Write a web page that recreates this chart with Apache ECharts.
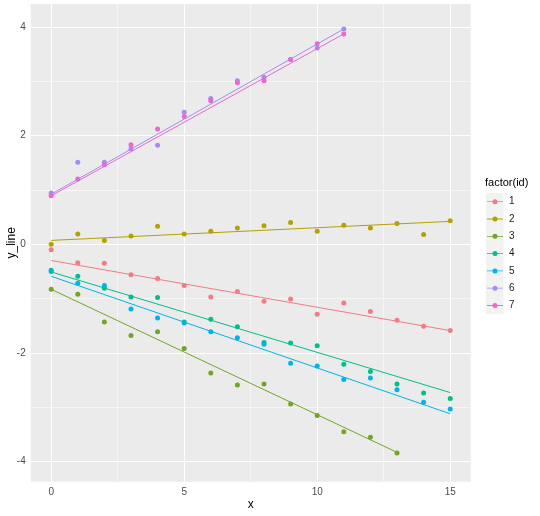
<!DOCTYPE html>
<html>
<head>
<meta charset="utf-8">
<script src="https://cdn.jsdelivr.net/npm/echarts@6/dist/echarts.min.js"></script>
<style>
  html, body { margin: 0; padding: 0; background: #ffffff; }
  #chart { width: 540px; height: 516px; }
</style>
</head>
<body>
<div id="chart"></div>
<script>
// x positions shared by every group
const xValues = [0, 1, 2, 3, 4, 5, 6, 7, 8, 9, 10, 11, 12, 13, 14, 15];

// y_line per id
const y1 = [-0.10, -0.34, -0.35, -0.56, -0.63, -0.76, -0.97, -0.87, -1.05, -1.01, -1.29, -1.08, -1.24, -1.40, -1.51, -1.59];
const y2 = [0.00, 0.19, 0.07, 0.15, 0.33, 0.19, 0.24, 0.30, 0.34, 0.40, 0.24, 0.35, 0.30, 0.38, 0.18, 0.43];
const y3 = [-0.83, -0.92, -1.43, -1.68, -1.61, -1.92, -2.37, -2.59, -2.57, -2.94, -3.15, -3.45, -3.55, -3.84];
const y4 = [-0.48, -0.59, -0.81, -0.97, -0.98, -1.43, -1.38, -1.52, -1.81, -1.82, -1.87, -2.21, -2.34, -2.57, -2.74, -2.84];
const y5 = [-0.50, -0.72, -0.76, -1.19, -1.36, -1.45, -1.61, -1.72, -1.84, -2.19, -2.24, -2.49, -2.46, -2.68, -2.91, -3.03];
const y6 = [0.94, 1.51, 1.51, 1.75, 1.82, 2.43, 2.68, 3.01, 3.07, 3.40, 3.61, 3.96];
const y7 = [0.89, 1.20, 1.46, 1.83, 2.12, 2.35, 2.64, 2.97, 3.01, 3.40, 3.69, 3.87];

// fitted line (geom_smooth lm) value at first and last x of each group
const fit1 = [-0.30, -1.59];
const fit2 = [0.07, 0.42];
const fit3 = [-0.83, -3.83];
const fit4 = [-0.51, -2.73];
const fit5 = [-0.59, -3.12];
const fit6 = [0.92, 3.96];
const fit7 = [0.89, 3.87];

const ids = ['1', '2', '3', '4', '5', '6', '7'];

// tick / grid values
const xTicks = [0, 5, 10, 15];
const xMinor = [2.5, 7.5, 12.5];
const yTicks = [-4, -2, 0, 2, 4];
const yMinor = [-3, -1, 1, 3];

const colors = ['#F27C86', '#B3A200', '#72A624', '#00BF8C', '#00B4E6', '#A48CF0', '#F065D0'];
const groupY = [y1, y2, y3, y4, y5, y6, y7];
const groupFit = [fit1, fit2, fit3, fit4, fit5, fit6, fit7];

// legend key: short line with a dot in the middle
const keyIcon = 'path://M0,2.1H16V2.9H0Z M10.5,2.5A2.5,2.5,0,1,1,5.5,2.5A2.5,2.5,0,1,1,10.5,2.5Z';

let chart = echarts.init(document.getElementById('chart'), null, {width: 540, height: 516, renderer: 'canvas'});

let gridLines = [];
xTicks.forEach(v => gridLines.push({xAxis: v, lineStyle: {color: '#ffffff', width: 1.1, type: 'solid'}}));
xMinor.forEach(v => gridLines.push({xAxis: v, lineStyle: {color: '#ffffff', width: 0.55, type: 'solid'}}));
yTicks.forEach(v => gridLines.push({yAxis: v, lineStyle: {color: '#ffffff', width: 1.1, type: 'solid'}}));
yMinor.forEach(v => gridLines.push({yAxis: v, lineStyle: {color: '#ffffff', width: 0.55, type: 'solid'}}));

let series = [{
    name: 'grid',
    type: 'line',
    data: [],
    z: 0,
    silent: true,
    markLine: {
        silent: true,
        symbol: ['none', 'none'],
        label: {show: false},
        z: 1,
        animation: false,
        data: gridLines
    }
}];

ids.forEach((id, i) => {
    series.push({
        name: id,
        type: 'scatter',
        symbol: 'circle',
        symbolSize: 5,
        itemStyle: {color: colors[i], opacity: 1},
        z: 3,
        data: groupY[i].map((y, k) => [xValues[k], y])
    });
});

ids.forEach((id, i) => {
    let lastX = xValues[groupY[i].length - 1];
    series.push({
        name: id,
        type: 'line',
        showSymbol: false,
        symbol: 'none',
        lineStyle: {color: colors[i], width: 1},
        itemStyle: {color: colors[i]},
        z: 4,
        data: [[xValues[0], groupFit[i][0]], [lastX, groupFit[i][1]]]
    });
});

let option = {
    animation: false,
    backgroundColor: '#ffffff',
    textStyle: {fontFamily: 'Liberation Sans, Arial, sans-serif'},
    title: {
        text: 'factor(id)',
        left: 485,
        top: 177,
        padding: 0,
        textStyle: {fontSize: 11, fontWeight: 'normal', color: '#000000', fontFamily: 'Liberation Sans, Arial, sans-serif'}
    },
    legend: {
        orient: 'vertical',
        left: 487,
        top: 196.7,
        padding: 0,
        itemWidth: 16,
        itemHeight: 5,
        itemGap: 7.3,
        selectedMode: false,
        textStyle: {fontSize: 10, color: '#1A1A1A', padding: [0, 0, 0, 1]},
        data: ids.map(id => ({name: id, icon: keyIcon}))
    },
    graphic: [{
        type: 'rect',
        z: -1,
        shape: {x: 486, y: 193, width: 17.5, height: 121},
        style: {fill: '#F2F2F2'}
    }],
    grid: {
        left: 30.7,
        right: 69.3,
        top: 4,
        bottom: 34.3,
        outerBoundsMode: 'none',
        containLabel: false,
        show: true,
        backgroundColor: '#EBEBEB',
        borderWidth: 0
    },
    xAxis: {
        type: 'value',
        min: -0.77,
        max: 15.77,
        name: 'x',
        nameLocation: 'middle',
        nameGap: 17,
        nameMoveOverlap: false,
        nameTextStyle: {fontSize: 12, color: '#000000'},
        axisLine: {show: false},
        splitLine: {show: false},
        axisTick: {show: true, length: 3, lineStyle: {color: '#333333', width: 1}, customValues: xTicks},
        axisLabel: {color: '#4D4D4D', fontSize: 10, margin: 6, customValues: xTicks}
    },
    yAxis: {
        type: 'value',
        min: -4.37,
        max: 4.42,
        name: 'y_line',
        nameLocation: 'middle',
        nameRotate: 90,
        nameGap: 13,
        nameMoveOverlap: false,
        nameTextStyle: {fontSize: 12, color: '#000000'},
        axisLine: {show: false},
        splitLine: {show: false},
        axisTick: {show: true, length: 3, lineStyle: {color: '#333333', width: 1}, customValues: yTicks},
        axisLabel: {color: '#4D4D4D', fontSize: 10, margin: 5, customValues: yTicks}
    },
    series: series
};

chart.setOption(option);
</script>
</body>
</html>
